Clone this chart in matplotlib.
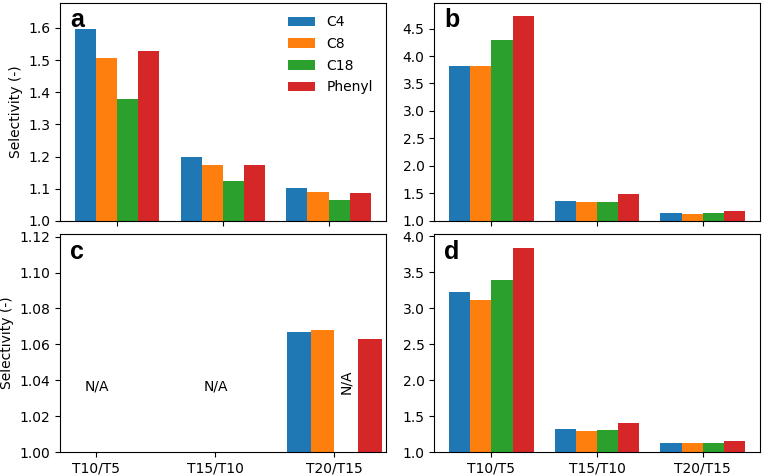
import numpy as np
import matplotlib
matplotlib.use("Agg")
import matplotlib.pyplot as plt
from matplotlib.ticker import MultipleLocator

categories = ["T10/T5", "T15/T10", "T20/T15"]
series = ["C4", "C8", "C18", "Phenyl"]
colors = ["#1f77b4", "#ff7f0e", "#2ca02c", "#d62728"]

# rows: categories, cols: series
vals_a = [[1.598, 1.505, 1.379, 1.528],
          [1.198, 1.175, 1.125, 1.173],
          [1.101, 1.091, 1.065, 1.088]]
vals_b = [[3.82, 3.81, 4.30, 4.73],
          [1.36, 1.35, 1.35, 1.49],
          [1.14, 1.135, 1.14, 1.18]]
nan = float("nan")
vals_c = [[nan, nan, nan, nan],
          [nan, nan, nan, nan],
          [1.067, 1.068, nan, 1.063]]
vals_d = [[3.23, 3.11, 3.39, 3.84],
          [1.32, 1.30, 1.31, 1.41],
          [1.134, 1.125, 1.134, 1.162]]

fig, axes = plt.subplots(2, 2, figsize=(7.62, 4.75), dpi=100)
plt.subplots_adjust(left=0.079, right=0.997, top=0.994, bottom=0.048,
                    wspace=0.15, hspace=0.06)

x = np.arange(len(categories))
w = 0.2
panels = [("a", vals_a), ("b", vals_b), ("c", vals_c), ("d", vals_d)]
for ax, (lab, vals) in zip(axes.flat, panels):
    arr = np.array(vals)
    for j, s in enumerate(series):
        ax.bar(x + (j - 1.5) * w, arr[:, j], w, color=colors[j], label=s)
    ymax = np.nanmax(arr)
    ax.set_ylim(1.0, ymax * 1.05)
    ax.text(0.03, 0.975, lab, transform=ax.transAxes, fontsize=18,
            fontweight="bold", va="top", ha="left", family="Liberation Sans")
    ax.set_xticks(x)
    ax.set_xticklabels(categories)
    ax.tick_params(labelsize=10)

for ax in axes[0]:
    ax.set_xticklabels([])
    ax.set_xlim(-0.54, 2.54)
axes[1, 1].set_xlim(-0.54, 2.54)
axes[1, 0].set_xlim(-0.305, 2.43)

axes[0, 1].yaxis.set_major_locator(MultipleLocator(0.5))
axes[1, 1].yaxis.set_major_locator(MultipleLocator(0.5))

axes[0, 0].set_ylabel("Selectivity (-)", fontsize=10)
axes[1, 0].set_ylabel("Selectivity (-)", fontsize=10)
axes[0, 0].legend(loc="upper right", frameon=False, fontsize=10,
                  labelspacing=0.55, handlelength=2.0)
axes[1, 0].set_yticks([1.00, 1.02, 1.04, 1.06, 1.08, 1.10, 1.12])
axes[1, 0].set_yticklabels(["1.00", "1.02", "1.04", "1.06", "1.08", "1.10", "1.12"])
axes[1, 0].set_ylim(1.0, np.nanmax(np.array(vals_c)) * 1.05)

axc = axes[1, 0]
axc.text(x[0], 1.0365, "N/A", ha="center", va="center", fontsize=10)
axc.text(x[1], 1.0365, "N/A", ha="center", va="center", fontsize=10)
axc.text(x[2] + 0.5 * w, 1.039, "N/A", ha="center", va="center",
         rotation=90, fontsize=10)

fig.savefig("out.png", dpi=100)
